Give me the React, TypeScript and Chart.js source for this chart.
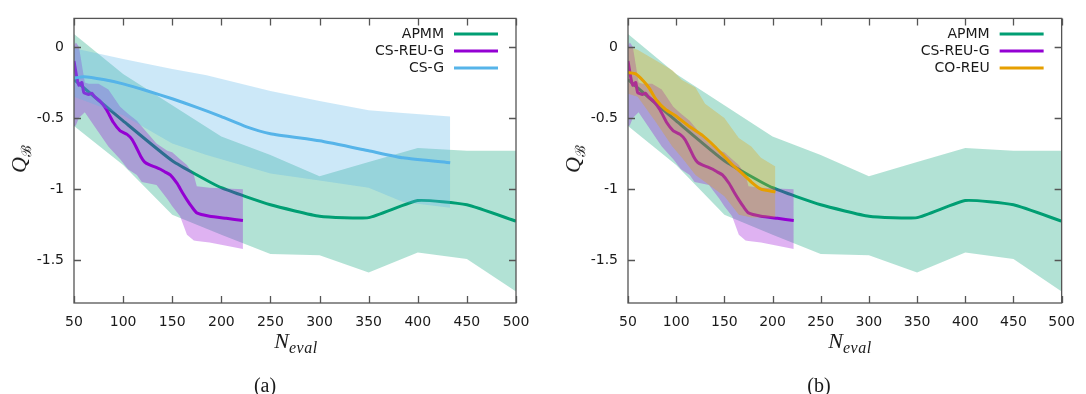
import React, { useEffect, useRef } from "react";
import { Chart, registerables } from "chart.js";
Chart.register(...registerables);

const xTickValues = [50, 100, 150, 200, 250, 300, 350, 400, 450, 500];
const yTickValues = [-1.5, -1, -0.5, 0];

// APMM
const apmmX = [50, 100, 150, 200, 250, 300, 350, 400, 450, 500];
const apmmMean = [-0.23, -0.52, -0.8, -0.99, -1.11, -1.19, -1.2, -1.08, -1.11, -1.225];
const apmmUpper = [0.09, -0.19, -0.41, -0.63, -0.76, -0.91, -0.81, -0.71, -0.73, -0.73];
const apmmLower = [-0.556, -0.83, -1.18, -1.32, -1.455, -1.465, -1.585, -1.445, -1.49, -1.72];

// CS-REU-G
const csReuGX = [50, 53, 55, 58, 60, 65, 68, 71, 77, 83, 90, 97, 104, 109, 113, 118, 122, 127, 133, 138, 143, 148, 155, 160, 165, 170, 175, 188, 205, 222];
const csReuGMean = [-0.1, -0.22, -0.27, -0.25, -0.32, -0.335, -0.325, -0.35, -0.385, -0.44, -0.53, -0.59, -0.615, -0.65, -0.7, -0.77, -0.81, -0.83, -0.845, -0.86, -0.88, -0.9, -0.96, -1.02, -1.075, -1.125, -1.167, -1.19, -1.205, -1.22];
const csReuGBandX = [50, 52, 55, 61, 65, 75, 85, 97, 105, 114, 119, 134, 145, 150, 158, 165, 172, 175, 188, 222];
const csReuGUpper = [0.01, 0.03, 0.0, -0.25, -0.26, -0.26, -0.3, -0.42, -0.47, -0.52, -0.56, -0.68, -0.73, -0.74, -0.79, -0.83, -0.9, -0.98, -0.99, -1.0];
const csReuGLower = [-0.56, -0.55, -0.5, -0.46, -0.5, -0.6, -0.7, -0.79, -0.86, -0.9, -0.95, -0.97, -1.07, -1.12, -1.19, -1.32, -1.36, -1.365, -1.375, -1.42];

// CS-G
const csGX = [50, 60, 80, 100, 125, 150, 175, 200, 225, 250, 300, 350, 385, 433];
const csGMean = [-0.22, -0.21, -0.23, -0.26, -0.31, -0.365, -0.425, -0.49, -0.56, -0.61, -0.66, -0.73, -0.78, -0.815];
const csGBandX = [50, 100, 150, 185, 250, 300, 350, 385, 433];
const csGUpper = [-0.01, -0.085, -0.155, -0.2, -0.31, -0.38, -0.445, -0.465, -0.49];
const csGLower = [-0.35, -0.48, -0.68, -0.76, -0.89, -0.94, -0.99, -1.09, -1.13];

// CO-REU
const coReuX = [50, 58, 66, 72, 79, 89, 100, 113, 127, 140, 150, 157, 167, 178, 188, 203];
const coReuMean = [-0.18, -0.19, -0.24, -0.29, -0.37, -0.44, -0.487, -0.556, -0.62, -0.7, -0.77, -0.82, -0.88, -0.95, -1.0, -1.02];
const coReuBandX = [50, 60, 79, 96, 106, 120, 130, 150, 165, 178, 188, 203];
const coReuUpper = [0.0, -0.02, -0.095, -0.165, -0.233, -0.285, -0.4, -0.5, -0.64, -0.7, -0.78, -0.84];
const coReuLower = [-0.33, -0.35, -0.53, -0.7, -0.78, -0.9, -0.95, -1.05, -1.18, -1.2, -1.2, -1.2];

type Series = {
  name: string;
  color: string;
  lineX: number[];
  lineY: number[];
  bandX: number[];
  upper: number[];
  lower: number[];
};

const apmm: Series = { name: "APMM", color: "#009e73", lineX: apmmX, lineY: apmmMean, bandX: apmmX, upper: apmmUpper, lower: apmmLower };
const csReuG: Series = { name: "CS-REU-G", color: "#9400d3", lineX: csReuGX, lineY: csReuGMean, bandX: csReuGBandX, upper: csReuGUpper, lower: csReuGLower };
const csG: Series = { name: "CS-G", color: "#56b4e9", lineX: csGX, lineY: csGMean, bandX: csGBandX, upper: csGUpper, lower: csGLower };
const coReu: Series = { name: "CO-REU", color: "#e69f00", lineX: coReuX, lineY: coReuMean, bandX: coReuBandX, upper: coReuUpper, lower: coReuLower };

const toXY = (xs: number[], ys: number[]) => xs.map((x, i) => ({ x, y: ys[i] }));
const rgba = (hex: string, a: number) => {
  const n = parseInt(hex.slice(1), 16);
  return `rgba(${(n >> 16) & 255},${(n >> 8) & 255},${n & 255},${a})`;
};

const CANVAS_H = 345;

function Panel(props: { series: Series[]; left: number; width: number; axisWidth: number; rightPad: number }) {
  const ref = useRef<HTMLCanvasElement>(null);
  useEffect(() => {
    const { series, axisWidth, rightPad } = props;
    const datasets: any[] = [];
    series.forEach((s, i) => {
      const base = (series.length - 1 - i) * 3;
      datasets.push({
        label: s.name + " upper",
        data: toXY(s.bandX, s.upper),
        borderWidth: 0,
        borderColor: "rgba(0,0,0,0)",
        pointRadius: 0,
        fill: false,
        order: base + 2,
      });
      datasets.push({
        label: s.name + " lower",
        data: toXY(s.bandX, s.lower),
        borderWidth: 0,
        borderColor: "rgba(0,0,0,0)",
        backgroundColor: rgba(s.color, 0.3),
        pointRadius: 0,
        fill: "-1",
        order: base + 1,
      });
      datasets.push({
        label: s.name,
        data: toXY(s.lineX, s.lineY),
        borderColor: s.color,
        borderWidth: 3,
        pointRadius: 0,
        fill: false,
        tension: 0.15,
        order: base,
      });
    });

    const framePlugin = {
      id: "frame",
      afterDraw(chart: any) {
        const { ctx, chartArea: a, scales } = chart;
        ctx.save();
        ctx.strokeStyle = "#555";
        ctx.lineWidth = 1.3;
        ctx.strokeRect(a.left, a.top, a.right - a.left, a.bottom - a.top);
        const tl = 7;
        ctx.beginPath();
        xTickValues.forEach((v) => {
          const px = Math.round(scales.x.getPixelForValue(v)) + 0.5;
          ctx.moveTo(px, a.bottom);
          ctx.lineTo(px, a.bottom - tl);
          ctx.moveTo(px, a.top);
          ctx.lineTo(px, a.top + tl);
        });
        yTickValues.forEach((v) => {
          const py = Math.round(scales.y.getPixelForValue(v)) + 0.5;
          ctx.moveTo(a.left, py);
          ctx.lineTo(a.left + tl, py);
          ctx.moveTo(a.right, py);
          ctx.lineTo(a.right - tl, py);
        });
        ctx.stroke();
        ctx.font = '14px "DejaVu Sans"';
        ctx.textAlign = "right";
        ctx.textBaseline = "middle";
        series.forEach((s, i) => {
          const y = a.top + 15.5 + i * 17;
          const x2 = a.right - 18;
          const x1 = x2 - 44;
          ctx.fillStyle = "#1a1a1a";
          ctx.fillText(s.name, x1 - 10, y);
          ctx.strokeStyle = s.color;
          ctx.lineWidth = 3;
          ctx.beginPath();
          ctx.moveTo(x1, y);
          ctx.lineTo(x2, y);
          ctx.stroke();
        });
        ctx.restore();
      },
    };

    const chart = new Chart(ref.current as HTMLCanvasElement, {
      type: "line",
      data: { datasets },
      options: {
        animation: false,
        responsive: false,
        devicePixelRatio: 1,
        layout: { padding: { left: 0, right: rightPad, top: 14, bottom: 0 } },
        plugins: { legend: { display: false }, tooltip: { enabled: false } },
        scales: {
          x: {
            type: "linear",
            min: 50,
            max: 500,
            afterBuildTicks: (scale: any) => {
              scale.ticks = xTickValues.map((v) => ({ value: v }));
            },
            afterFit: (scale: any) => {
              scale.height = CANVAS_H - 303;
            },
            grid: { display: false, drawTicks: false },
            border: { display: false },
            ticks: {
              autoSkip: false,
              maxRotation: 0,
              padding: 11,
              color: "#1a1a1a",
              font: { family: "DejaVu Sans", size: 14 },
              callback: (v: any) => String(v),
            },
          },
          y: {
            type: "linear",
            min: -1.8,
            max: 0.2,
            afterBuildTicks: (scale: any) => {
              scale.ticks = yTickValues.map((v) => ({ value: v }));
            },
            afterFit: (scale: any) => {
              scale.width = axisWidth;
            },
            grid: { display: false, drawTicks: false },
            border: { display: false },
            ticks: {
              padding: 10,
              color: "#1a1a1a",
              font: { family: "DejaVu Sans", size: 14 },
              callback: (v: any) => String(v),
            },
          },
        },
      } as any,
      plugins: [framePlugin],
    });
    return () => chart.destroy();
  }, []);
  return (
    <canvas
      ref={ref}
      width={props.width}
      height={CANVAS_H}
      style={{ position: "absolute", left: props.left, top: 0, width: props.width, height: CANVAS_H }}
    />
  );
}

const labelBase: React.CSSProperties = {
  position: "absolute",
  fontFamily: '"Liberation Serif", "DejaVu Serif", serif',
  color: "#1a1a1a",
  whiteSpace: "nowrap",
  lineHeight: 1,
};

function XTitle({ cx }: { cx: number }) {
  return (
    <div style={{ ...labelBase, left: cx, top: 343, transform: "translate(-50%,-50%)", fontSize: 22 }}>
      <i>N</i>
      <sub style={{ fontSize: 16, fontStyle: "italic", verticalAlign: -5, letterSpacing: 0.5 }}>eval</sub>
    </div>
  );
}

function YTitle({ cx }: { cx: number }) {
  return (
    <div style={{ ...labelBase, left: cx, top: 159, transform: "translate(-50%,-50%) rotate(-90deg)", fontSize: 22 }}>
      <i>Q</i>
      <sub style={{ fontSize: 14, verticalAlign: -5 }}>ℬ</sub>
    </div>
  );
}

export default function App() {
  return (
    <div style={{ position: "fixed", left: 0, top: 0, width: 1086, height: 394, background: "#fff", overflow: "hidden" }}>
      <Panel series={[apmm, csReuG, csG]} left={0} width={545} axisWidth={74} rightPad={29} />
      <Panel series={[apmm, csReuG, coReu]} left={545} width={541} axisWidth={83} rightPad={16} />
      <YTitle cx={21} />
      <YTitle cx={575} />
      <XTitle cx={296} />
      <XTitle cx={850} />
      <div style={{ ...labelBase, left: 265, top: 385, transform: "translate(-50%,-50%)", fontSize: 20 }}>(a)</div>
      <div style={{ ...labelBase, left: 819, top: 385, transform: "translate(-50%,-50%)", fontSize: 20 }}>(b)</div>
    </div>
  );
}
